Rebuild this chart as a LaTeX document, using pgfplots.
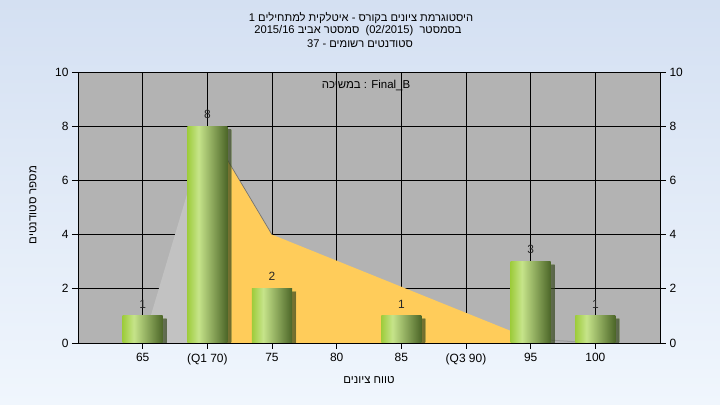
\documentclass[border=0pt]{standalone}
\usepackage{pgfplots}
\pgfplotsset{compat=1.18}
\usepackage{fontspec}
\setmainfont{Liberation Sans}
\newfontfamily\hebfont[Script=Hebrew]{Liberation Sans}
\TeXXeTstate=1
\definecolor{bgtop}{RGB}{212,224,242}
\definecolor{bgbot}{RGB}{240,246,253}
\definecolor{plotbg}{RGB}{179,179,179}
\definecolor{ltgray}{RGB}{194,194,194}
\definecolor{yel}{RGB}{255,204,90}
\definecolor{gA}{RGB}{158,204,60}
\definecolor{gB}{RGB}{198,228,138}
\definecolor{gC}{RGB}{76,102,40}
\pgfdeclarehorizontalshading{cyl}{100bp}{color(0bp)=(gA); color(25bp)=(gA); color(39bp)=(gB); color(75bp)=(gC); color(100bp)=(gC)}
\pgfplotsset{cylbar/.style={ybar, bar width=0.62, draw=none, shading=cyl,
  preaction={fill=black, fill opacity=0.45, transform canvas={shift={(4bp,-3bp)}}}}}
\begin{document}
\begin{tikzpicture}
\shade[top color=bgtop, bottom color=bgbot] (0,0) rectangle (720bp,405bp);
\begin{axis}[
  at={(78bp,62bp)}, anchor=south west, scale only axis,
  width=582bp, height=271bp,
  xmin=-1, xmax=8, ymin=0, ymax=10,
  xtick={0,...,7},
  xticklabels={65,(Q1 70),75,80,85,(Q3 90),95,100},
  ytick={0,2,...,10},
  axis background/.style={fill=plotbg},
  grid=major, major grid style={black, line width=0.8bp},
  tick align=outside, major tick length=6bp,
  tick style={black, line width=0.8bp},
  axis line style={black, line width=0.8bp},
  xtick pos=lower, ytick pos=left,
  ticklabel style={font=\fontsize{12}{13}\selectfont, text=black},
  /pgf/number format/assume math mode=true,
  xticklabel style={yshift=-1bp},
]
\addplot[fill=ltgray, draw=none] coordinates {(0,0) (1,8)} \closedcycle;
\addplot[fill=yel, draw=none] coordinates {(1,8) (2,4) (6,0.15)} \closedcycle;
\addplot[color=black!55, line width=0.7bp] coordinates {(1,8) (2,4)};
\addplot[color=black!40, line width=1bp] coordinates {(6,0.15) (7,0)};
\addplot[cylbar] coordinates {(0,1)};
\addplot[cylbar] coordinates {(1,8)};
\addplot[cylbar] coordinates {(2,2)};
\addplot[cylbar] coordinates {(4,1)};
\addplot[cylbar] coordinates {(6,3)};
\addplot[cylbar] coordinates {(7,1)};
\addplot[draw=none, mark=none, nodes near coords, point meta=y,
  every node near coord/.append style={font=\fontsize{12}{13}\selectfont, text=black!85, anchor=center, yshift=12bp}]
  coordinates {(0,1) (1,8) (2,2) (4,1) (6,3) (7,1)};
\end{axis}
\begin{axis}[
  at={(78bp,62bp)}, anchor=south west, scale only axis,
  width=582bp, height=271bp,
  xmin=-1, xmax=8, ymin=0, ymax=10,
  axis x line=none, axis y line*=right,
  ytick={0,2,...,10},
  tick align=outside, major tick length=6bp,
  tick style={black, line width=0.8bp},
  axis line style={black, line width=0.8bp},
  ticklabel style={font=\fontsize{12}{13}\selectfont, text=black},
  /pgf/number format/assume math mode=true,
]
\addplot[draw=none] coordinates {(0,0)};
\end{axis}
\node[font=\hebfont\fontsize{11.2}{13}\selectfont] at (361bp,387bp) {\beginR היסטוגרמת ציונים בקורס - איטלקית למתחילים 1\endR};
\node[font=\hebfont\fontsize{11.2}{13}\selectfont] at (358bp,374bp) {\beginR בסמסטר\ \ \beginL(02/2015)\endL{}\ \ סמסטר אביב 2015/16\endR};
\node[font=\hebfont\fontsize{11.2}{13}\selectfont] at (360bp,361bp) {\beginR סטודנטים רשומים - 37\endR};
\node[font=\fontsize{11.5}{13}\selectfont] at (366bp,320bp) {{\hebfont\beginR במשיכה\endR} : Final\_B};
\node[font=\hebfont\fontsize{11.5}{13}\selectfont] at (369bp,25bp) {\beginR טווח ציונים\endR};
\node[font=\hebfont\fontsize{11.5}{13}\selectfont, rotate=90] at (33bp,200bp) {\beginR מספר סטודנטים\endR};
\pgfresetboundingbox
\path[use as bounding box] (0,0) rectangle (720bp,405bp);
\end{tikzpicture}
\end{document}
